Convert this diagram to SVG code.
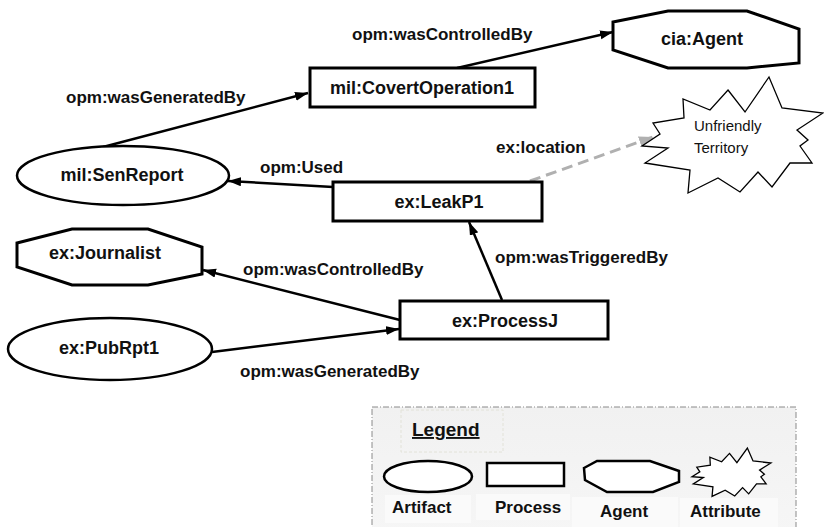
<svg xmlns="http://www.w3.org/2000/svg" width="824" height="527" viewBox="0 0 824 527">
  <style>
    .node { fill: #fff; stroke: #000; stroke-width: 3; }
    .art { fill: #fff; stroke: #000; stroke-width: 2.5; }
    .star { fill: #fff; stroke: #000; stroke-width: 1.3; stroke-linejoin: miter; }
    .ntext { font-family: "Liberation Sans", Arial, sans-serif; font-weight: bold; font-size: 18px; fill: #111; text-anchor: middle; }
    .elabel { font-family: "Liberation Sans", Arial, sans-serif; font-weight: bold; font-size: 17px; fill: #111; }
    .title { font-size: 19px; text-decoration: underline; }
    .stext { font-family: "Liberation Sans", Arial, sans-serif; font-size: 15px; fill: #111; }
    .edge { fill: none; stroke: #000; stroke-width: 2.5; }
    .dash { fill: none; stroke: #b0b0b0; stroke-width: 3; stroke-dasharray: 11 6; }
  </style>
  <defs>
    <marker id="arrow" markerUnits="userSpaceOnUse" markerWidth="14" markerHeight="10" refX="13" refY="4.5" orient="auto">
      <path d="M0,0 L13,4.5 L0,9 z" fill="#000"/>
    </marker>
    <marker id="arrowGray" markerUnits="userSpaceOnUse" markerWidth="15" markerHeight="12" refX="14" refY="5.5" orient="auto">
      <path d="M0,0 L14,5.5 L0,11 z" fill="#b0b0b0"/>
    </marker>
    <linearGradient id="legendBg" x1="0" y1="0" x2="0" y2="1">
      <stop offset="0" stop-color="#f1f1f1"/>
      <stop offset="1" stop-color="#f6f6f6"/>
    </linearGradient>
  </defs>

  <rect width="824" height="527" fill="#fff"/>

  <!-- connectors -->
  <g id="connectors">
    <line class="edge" x1="103" y1="147" x2="308" y2="93" marker-end="url(#arrow)"/>
    <line class="edge" x1="457" y1="68" x2="613" y2="32" marker-end="url(#arrow)"/>
    <line class="edge" x1="333" y1="187" x2="228" y2="181" marker-end="url(#arrow)"/>
    <line class="dash" x1="530" y1="181" x2="653" y2="137" marker-end="url(#arrowGray)"/>
    <line class="edge" x1="502" y1="300" x2="469" y2="222" marker-end="url(#arrow)"/>
    <line class="edge" x1="400" y1="320" x2="203" y2="270" marker-end="url(#arrow)"/>
    <line class="edge" x1="212" y1="352" x2="399" y2="329" marker-end="url(#arrow)"/>

    <text class="elabel" x="66" y="103">opm:wasGeneratedBy</text>
    <text class="elabel" x="352" y="40">opm:wasControlledBy</text>
    <text class="elabel" x="260" y="173">opm:Used</text>
    <text class="elabel" x="496" y="153">ex:location</text>
    <text class="elabel" x="495" y="263">opm:wasTriggeredBy</text>
    <text class="elabel" x="243" y="275">opm:wasControlledBy</text>
    <text class="elabel" x="240" y="377">opm:wasGeneratedBy</text>
  </g>

  <!-- nodes -->
  <g id="cia-agent">
    <polygon class="node" points="613,22 668,11 747,11 799,29 799,63 747,68 668,68 613,50"/>
    <text class="ntext" x="702" y="45">cia:Agent</text>
  </g>

  <g id="covert-operation">
    <rect class="node" x="310" y="68" width="225" height="39"/>
    <text class="ntext" x="422" y="94">mil:CovertOperation1</text>
  </g>

  <g id="unfriendly-territory">
    <polygon class="star" points="728,90 745,112 769,77 782,108 823,113 797,130 808,140 800,146 812,163 790,163 772,187 758,172 740,192 718,178 688,193 690,170 645,163 668,148 642,146 660,134 653,123 684,118 683,99 710,110"/>
    <text class="stext" x="694" y="131">Unfriendly</text>
    <text class="stext" x="694" y="153">Territory</text>
  </g>

  <g id="sen-report">
    <ellipse class="art" cx="123" cy="175.5" rx="106" ry="29.5"/>
    <text class="ntext" x="122" y="181">mil:SenReport</text>
  </g>

  <g id="leak-p1">
    <rect class="node" x="333" y="182" width="209" height="39"/>
    <text class="ntext" x="439" y="208">ex:LeakP1</text>
  </g>

  <g id="journalist">
    <polygon class="node" points="17,243 72,229 148,229 202,247 202,274 148,285 72,285 17,267"/>
    <text class="ntext" x="105" y="259">ex:Journalist</text>
  </g>

  <g id="process-j">
    <rect class="node" x="400" y="301" width="208" height="38"/>
    <text class="ntext" x="505" y="327">ex:ProcessJ</text>
  </g>

  <g id="pub-rpt1">
    <ellipse class="art" cx="110" cy="349" rx="102" ry="31"/>
    <text class="ntext" x="109" y="354">ex:PubRpt1</text>
  </g>

  <!-- legend -->
  <g id="legend">
    <rect x="372" y="407" width="424" height="130" fill="url(#legendBg)" stroke="#8a8a8a" stroke-width="1" stroke-dasharray="6 2 1 2"/>
    <rect x="401" y="410" width="102" height="42" fill="none" stroke="#e2e2d8" stroke-width="1" stroke-dasharray="3 2"/>
    <text class="elabel title" x="412" y="436">Legend</text>

    <rect x="385" y="495" width="86" height="28" fill="#fafafa"/>
    <rect x="476" y="494" width="94" height="26" fill="#fafafa"/>
    <rect x="572" y="497" width="106" height="30" fill="#fafafa"/>
    <rect x="680" y="498" width="98" height="29" fill="#fafafa"/>

    <ellipse class="art" cx="428" cy="476.5" rx="44" ry="15.5"/>
    <rect class="art" x="487" y="463" width="77" height="23"/>
    <polygon class="art" points="584,468 597,461 650,461 679,471 679,482 653,492 607,492 585,480"/>
    <polygon class="star" vector-effect="non-scaling-stroke" transform="translate(692,448) scale(0.436,0.417) translate(-642,-77)" points="728,90 745,112 769,77 782,108 823,113 797,130 808,140 800,146 812,163 790,163 772,187 758,172 740,192 718,178 688,193 690,170 645,163 668,148 642,146 660,134 653,123 684,118 683,99 710,110"/>

    <text class="elabel" x="392" y="513">Artifact</text>
    <text class="elabel" x="495" y="513">Process</text>
    <text class="elabel" x="600" y="517">Agent</text>
    <text class="elabel" x="690" y="517">Attribute</text>
  </g>
</svg>
